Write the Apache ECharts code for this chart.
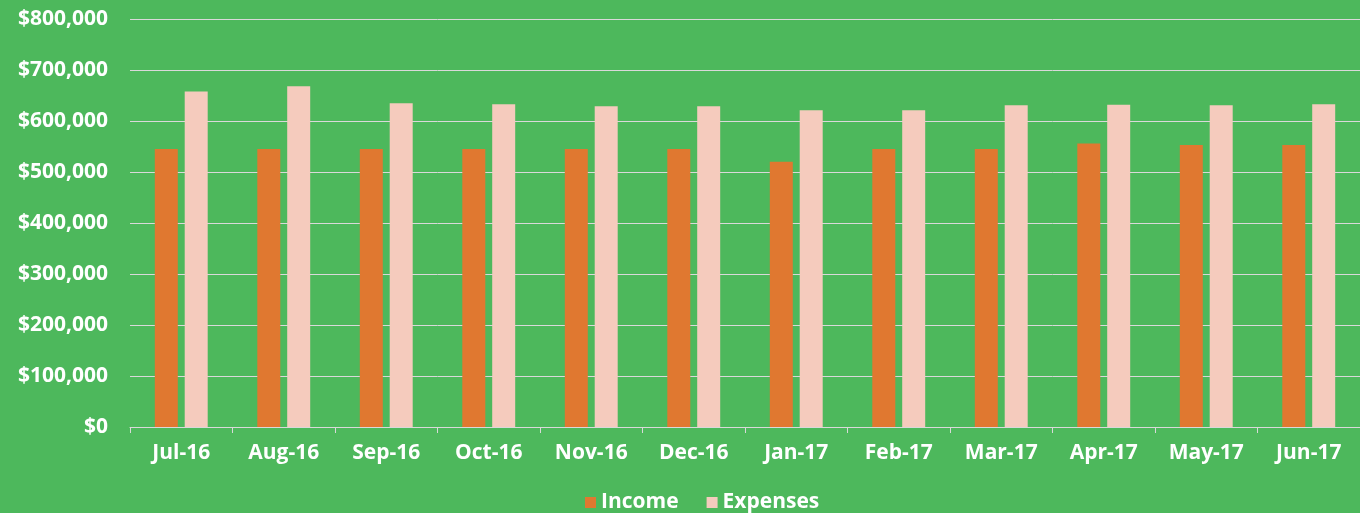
<!DOCTYPE html>
<html>
<head>
<meta charset="utf-8">
<title>Income and Expenses</title>
<script src="https://cdn.jsdelivr.net/npm/echarts@6/dist/echarts.min.js"></script>
<style>
  html, body { margin: 0; padding: 0; background: #4db85c; }
  #chart { width: 1360px; height: 513px; }
</style>
</head>
<body>
<div id="chart"></div>
<script>
// data
var months = ['Jul-16', 'Aug-16', 'Sep-16', 'Oct-16', 'Nov-16', 'Dec-16',
              'Jan-17', 'Feb-17', 'Mar-17', 'Apr-17', 'May-17', 'Jun-17'];
var income = [545000, 545000, 545000, 545000, 545000, 545000,
              520000, 545000, 545000, 556000, 553000, 553000];
var expenses = [658000, 668000, 635000, 633000, 629000, 629000,
                621000, 621000, 631000, 632000, 631000, 633000];

var labelFont = {
    color: '#ffffff',
    fontFamily: 'Open Sans',
    fontWeight: 'bold',
    fontSize: 21
};

var chart = echarts.init(document.getElementById('chart'));
chart.setOption({
    backgroundColor: '#4db85c',
    animation: false,
    grid: { left: 130, top: 19, width: 1236, height: 408, containLabel: false },
    legend: {
        top: 487,
        left: 580,
        itemWidth: 11,
        itemHeight: 11,
        itemGap: 28,
        icon: 'rect',
        textStyle: labelFont,
        data: ['Income', 'Expenses']
    },
    xAxis: {
        type: 'category',
        data: months,
        axisLine: { lineStyle: { color: '#d9d9d9', width: 1 } },
        axisTick: { show: true, length: 6, lineStyle: { color: '#d9d9d9' } },
        axisLabel: Object.assign({ margin: 16 }, labelFont)
    },
    yAxis: {
        type: 'value',
        min: 0,
        max: 800000,
        interval: 100000,
        axisLine: { show: false },
        axisTick: { show: false },
        splitLine: { lineStyle: { color: '#d9d9d9', width: 1 } },
        axisLabel: Object.assign({
            margin: 22,
            formatter: function (v) {
                return '$' + v.toString().replace(/\B(?=(\d{3})+(?!\d))/g, ',');
            }
        }, labelFont)
    },
    series: [
        {
            name: 'Income',
            type: 'bar',
            data: income,
            barWidth: 23,
            barGap: '30%',
            itemStyle: { color: '#e07830' }
        },
        {
            name: 'Expenses',
            type: 'bar',
            data: expenses,
            barWidth: 23,
            barGap: '30%',
            itemStyle: { color: '#f5cbbd' }
        }
    ]
});
</script>
</body>
</html>
